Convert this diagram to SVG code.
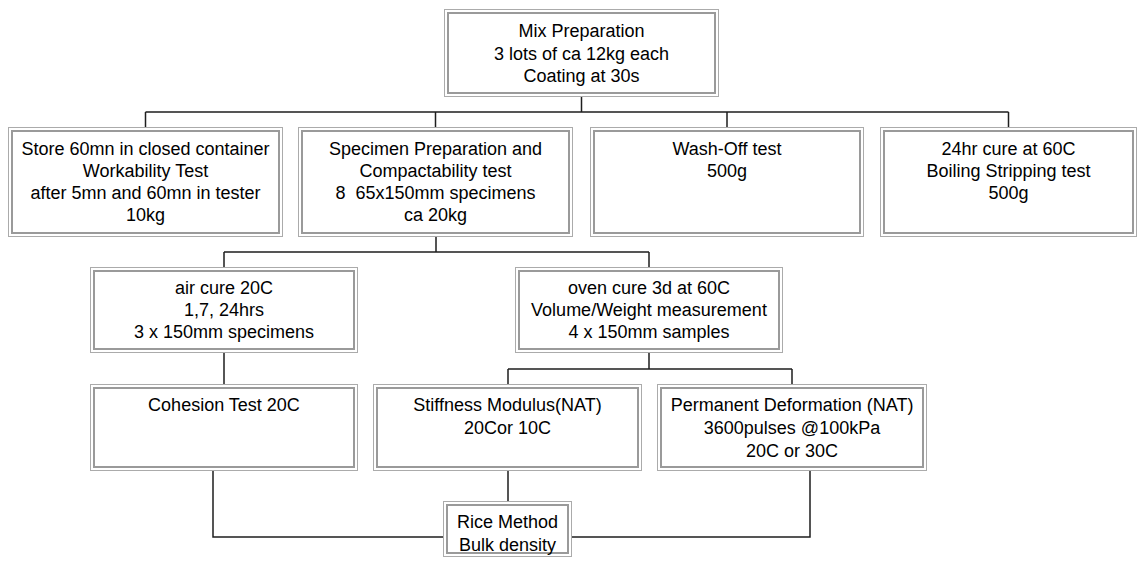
<svg xmlns="http://www.w3.org/2000/svg" width="1145" height="563" viewBox="0 0 1145 563">
<style>
.o{fill:#fff;stroke:#ababab;stroke-width:1}
.i{fill:none;stroke:#9a9a9a;stroke-width:2}
.k{fill:none;stroke:#c8c8c8;stroke-width:1}
text{font-family:"Liberation Sans",Arial,sans-serif;font-size:18px;fill:#000;text-anchor:middle}
.c path{fill:none;stroke:#1e1e1e;stroke-width:1.5}
</style>
<rect width="1145" height="563" fill="#fff"/>
<g class="c" id="connectors">
<path d="M581.5 97V112M145.5 112H1008.5M145.5 112V127M435.5 112V127M727 112V127M1008.5 112V127"/>
<path d="M436 237V252M224 252H649M224 252V267M649 252V267"/>
<path d="M224 353V384"/>
<path d="M649 353V369M508 369H792M508 369V384M792 369V384"/>
<path d="M213 471V537H443M508 471V501M810 471V537H572"/>
</g>
<g id="mix">
<rect class="o" x="444.5" y="9.5" width="274" height="87"/><rect class="i" x="448" y="13" width="267" height="80"/>
<text x="581.5" y="37">Mix Preparation</text><text x="581.5" y="59.5">3 lots of ca 12kg each</text><text x="581.5" y="82">Coating at 30s</text>
</g>
<g id="store">
<rect class="o" x="8.5" y="127.5" width="274" height="109"/><rect class="i" x="12" y="131" width="267" height="102"/>
<text x="145.5" y="155">Store 60mn in closed container</text><text x="145.5" y="177">Workability Test</text><text x="145.5" y="199">after 5mn and 60mn in tester</text><text x="145.5" y="221">10kg</text>
</g>
<g id="specimen">
<rect class="o" x="298.5" y="127.5" width="274" height="109"/><rect class="i" x="302" y="131" width="267" height="102"/>
<text x="435.5" y="155">Specimen Preparation and</text><text x="435.5" y="177">Compactability test</text><text x="435.5" y="199" xml:space="preserve">8  65x150mm specimens</text><text x="435.5" y="221">ca 20kg</text>
</g>
<g id="washoff">
<rect class="o" x="590.5" y="127.5" width="273" height="109"/><rect class="i" x="594" y="131" width="266" height="102"/>
<text x="727" y="155">Wash-Off test</text><text x="727" y="177">500g</text>
</g>
<g id="boiling">
<rect class="o" x="880.5" y="127.5" width="256" height="109"/><rect class="i" x="884" y="131" width="249" height="102"/>
<text x="1008.5" y="155">24hr cure at 60C</text><text x="1008.5" y="177">Boiling Stripping test</text><text x="1008.5" y="199">500g</text>
</g>
<g id="aircure">
<rect class="o" x="90.5" y="267.5" width="267" height="85"/><rect class="i" x="94" y="271" width="260" height="78"/>
<text x="224" y="294">air cure 20C</text><text x="224" y="316">1,7, 24hrs</text><text x="224" y="338">3 x 150mm specimens</text>
</g>
<g id="ovencure">
<rect class="o" x="515.5" y="267.5" width="267" height="85"/><rect class="i" x="519" y="271" width="260" height="78"/>
<text x="649" y="294">oven cure 3d at 60C</text><text x="649" y="316">Volume/Weight measurement</text><text x="649" y="338">4 x 150mm samples</text>
</g>
<g id="cohesion">
<rect class="o" x="90.5" y="384.5" width="267" height="86"/><rect class="i" x="94" y="388" width="260" height="79"/>
<text x="224" y="411">Cohesion Test 20C</text>
</g>
<g id="stiffness">
<rect class="o" x="373.5" y="384.5" width="268" height="86"/><rect class="i" x="377" y="388" width="261" height="79"/>
<text x="507.5" y="411">Stiffness Modulus(NAT)</text><text x="507.5" y="434">20Cor 10C</text>
</g>
<g id="permanent">
<rect class="o" x="657.5" y="384.5" width="269" height="86"/><rect class="i" x="661" y="388" width="262" height="79"/>
<text x="792" y="411">Permanent Deformation (NAT)</text><text x="792" y="434">3600pulses @100kPa</text><text x="792" y="457">20C or 30C</text>
</g>
<g id="rice">
<rect class="o" x="443.5" y="501.5" width="128" height="55"/><rect class="i" x="447" y="505" width="121" height="48"/>
<text x="507.5" y="528">Rice Method</text><text x="507.5" y="551">Bulk density</text>
</g>
</svg>
